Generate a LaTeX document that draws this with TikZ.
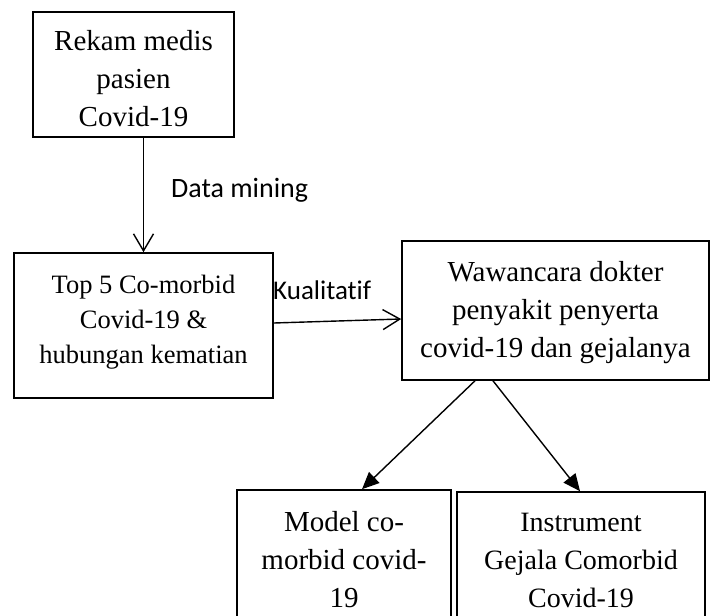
\documentclass[tikz,border=0pt]{standalone}
\usepackage{fontspec}
\setmainfont{Liberation Serif}
\newfontfamily\lblfont[Ligatures=NoCommon]{Carlito}
\usetikzlibrary{arrows.meta}
\begin{document}
\begin{tikzpicture}[x=1pt,y=-1pt,
  frame/.style={draw,line width=1.6pt,rectangle,inner sep=0pt},
  txta/.style={align=center,inner sep=0pt,font=\fontsize{29}{38}\selectfont},
  txtb/.style={align=center,inner sep=0pt,font=\fontsize{26.5}{35}\selectfont},
  openarr/.style={line width=1.4pt,-{Straight Barb[length=17pt,width=20pt,line width=1.4pt]}},
  fillarr/.style={line width=1.4pt,-{Triangle[length=17pt,width=15pt]}},
  lbl/.style={font=\lblfont\fontsize{28}{32}\selectfont,anchor=base west,inner sep=0pt}
]
\useasboundingbox (0,0) rectangle (710,616);
\clip (0,0) rectangle (710,616);
\node[frame,minimum width=201pt,minimum height=125pt] (b1) at (133.5,74.5) {};
\node[txta] (t1) at ([yshift=-4pt]b1.center) {Rekam medis\\pasien\\Covid-19};
\node[frame,minimum width=259pt,minimum height=145pt] (b2) at (143.5,325.5) {};
\node[txtb] (t2) at ([yshift=3pt]b2.center) {Top 5 Co-morbid\\Covid-19 \&\\hubungan kematian};
\node[frame,minimum width=307pt,minimum height=139pt] (b3) at (555.5,310.5) {};
\node[txta] (t3) at ([yshift=-2pt]b3.center) {Wawancara dokter\\penyakit penyerta\\covid-19 dan gejalanya};
\node[frame,minimum width=214pt,minimum height=140pt] (b4) at (344,560) {};
\node[txta] (t4) at (b4.center) {Model co-\\morbid covid-\\19};
\node[frame,minimum width=248pt,minimum height=138pt] (b5) at (581,561) {};
\node[txta,font=\fontsize{28}{38}\selectfont] (t5) at ([yshift=1pt]b5.center) {Instrument\\Gejala Comorbid\\Covid-19};
\draw[openarr] (b1.south -| b2.north) -- (b2.north);
\draw[openarr] ([yshift=2.5pt]b2.east) -- ([yshift=-8.5pt]b3.west);
\draw[fillarr] ([xshift=-80.5pt]b3.south) -- ([xshift=18pt]b4.north);
\draw[fillarr] ([xshift=-62.5pt]b3.south) -- ([xshift=-1pt]b5.north);
\node[lbl] (l1) at (171,197) {Data mining};
\node[lbl,font=\lblfont\fontsize{27}{32}\selectfont] (l2) at (273,299) {Kualitatif};
\end{tikzpicture}
\end{document}
